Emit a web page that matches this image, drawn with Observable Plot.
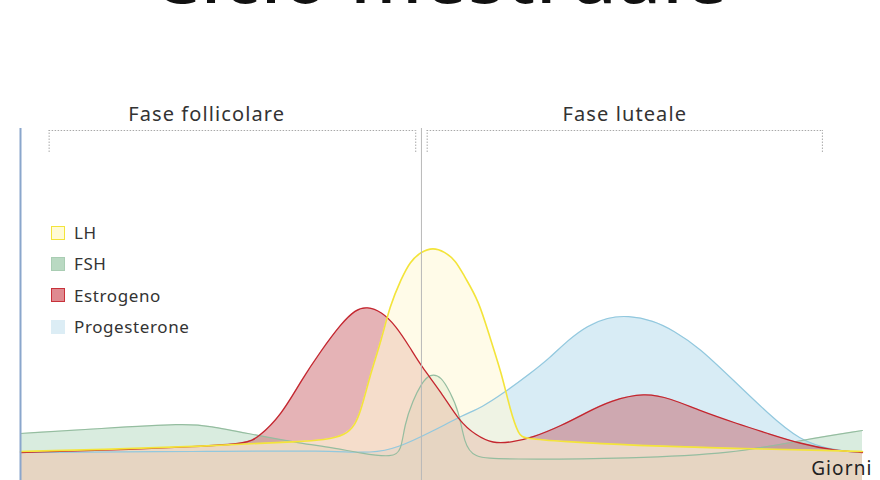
<!DOCTYPE html>
<html>
<head>
<meta charset="utf-8">
<script src="https://cdn.jsdelivr.net/npm/d3@7"></script>
<script src="https://cdn.jsdelivr.net/npm/@observablehq/plot@0.6"></script>
<style>
  html, body { margin: 0; padding: 0; background: #fff; }
  #wrap { position: relative; width: 880px; height: 480px; overflow: hidden; font-family: "Noto Sans", sans-serif; color: #333; }
  #title { position: absolute; left: 0; width: 880px; top: -64px; text-align: center; font-size: 76px; line-height: 1; font-weight: 500; color: #111; letter-spacing: 1px; }
  #chart { position: absolute; left: 0; top: 0; }
  #chart svg text { letter-spacing: 1.1px; }
  #legend { position: absolute; left: 51px; top: 217px; }
  .item { display: flex; align-items: center; height: 31.3px; font-size: 17px; letter-spacing: 0.6px; color: #333; }
  .sw { width: 12px; height: 12px; margin-right: 9px; border: 1.5px solid; box-sizing: content-box; }
</style>
</head>
<body>
<div id="wrap">
  <div id="title">Ciclo mestruale</div>
  <div id="chart"></div>
  <div id="legend"></div>
</div>
<script>
// Hormone levels (arbitrary units) by day of the cycle
const lhDays = [0, 2.8, 6.3, 9.8, 11.5, 11.9, 12.2, 12.6, 12.9, 13.3, 13.6, 14, 14.4, 14.8, 15.2, 15.5, 16, 16.4, 16.8, 17.1, 17.4, 17.6, 18.9, 21.4, 24.9, 28.4, 29.4];
const lhLevels = [14.5, 15.5, 17, 19.5, 21, 35, 52.5, 70, 87.5, 101, 109.5, 114.5, 116.5, 114.5, 110, 102, 90, 71, 53.5, 35, 22.5, 21, 19.5, 17.5, 16, 15, 14.5];

const estDays = [0, 2.8, 6.3, 7.9, 8.3, 9.1, 9.8, 10.5, 11.2, 11.7, 12.1, 12.6, 13.1, 13.6, 14, 14.7, 15.3, 15.9, 16.5, 17.1, 17.9, 18.9, 19.7, 20.6, 21.8, 22.7, 23.7, 25, 26.1, 27.2, 28.4, 29.4];
const estLevels = [14, 15, 17, 18.5, 21.5, 32.5, 50, 65, 78.5, 85.5, 87, 84.5, 77.5, 66.5, 57, 44, 30, 22.5, 18.5, 19, 21.5, 27.5, 33.5, 40, 44, 41, 35, 28.5, 23.5, 18.5, 15, 14];

const fshDays = [0, 2.8, 5.8, 6.5, 8.3, 9.8, 10.9, 11.9, 13, 13.3, 13.4, 13.7, 14, 14.3, 14.7, 15, 15.3, 15.5, 15.8, 16.8, 21.4, 24.9, 27.2, 29.4];
const fshLevels = [23.5, 26, 28.5, 27.5, 22.5, 18.5, 16.5, 13.5, 11.5, 15, 27.5, 40, 48.5, 53.5, 52, 44, 35, 18.5, 11.5, 10.5, 11, 13.5, 20, 25];

const progDays = [0, 6.3, 10.8, 12.3, 13.2, 14.3, 15.5, 16.1, 16.9, 17.8, 18.5, 19.1, 19.8, 20.5, 21.2, 22.1, 22.8, 23.7, 24.9, 26.1, 27.2, 28.4, 29.4];
const progLevels = [14, 14.5, 15, 13.5, 16.5, 24, 33, 36.5, 44, 53.5, 61.5, 70, 77.5, 81.5, 82.5, 80, 75, 66.5, 50, 33.5, 20, 15, 14];

// Phases
const phaseNames = ["Fase follicolare", "Fase luteale"];
const phaseStart = [1, 14.2];
const phaseEnd = [13.8, 28];
const phaseLabelDay = [6.5, 21.1];
const ovulationDay = 14;
const cycleEnd = 29.4;

const seriesNames = ["LH", "FSH", "Estrogeno", "Progesterone"];

const toRows = (days, levels) => days.map((d, i) => ({day: d, level: levels[i]}));
const lh = toRows(lhDays, lhLevels);
const est = toRows(estDays, estLevels);
const fsh = toRows(fshDays, fshLevels);
const prog = toRows(progDays, progLevels);
const phases = phaseNames.map((n, i) => ({name: n, start: phaseStart[i], end: phaseEnd[i], label: phaseLabelDay[i]}));

const bracketTop = 175, bracketBottom = 164, labelLevel = 183, topLevel = 176;
const curve = "basis";

const chart = Plot.plot({
  width: 880,
  height: 480,
  marginLeft: 20,
  marginRight: 18,
  marginTop: 0,
  marginBottom: 0,
  x: {domain: [0, cycleEnd], axis: null},
  y: {domain: [0, 240], axis: null},
  marks: [
    Plot.areaY(prog, {x: "day", y: "level", fill: "#a8d5e8", fillOpacity: 0.45, curve}),
    Plot.areaY(fsh, {x: "day", y: "level", fill: "#9fcfb0", fillOpacity: 0.4, curve}),
    Plot.areaY(est, {x: "day", y: "level", fill: "#c24a52", fillOpacity: 0.42, curve}),
    Plot.areaY(lh, {x: "day", y: "level", fill: "#fff8d8", fillOpacity: 0.6, curve}),
    Plot.lineY(prog, {x: "day", y: "level", stroke: "#92c8de", strokeWidth: 1.2, curve}),
    Plot.lineY(fsh, {x: "day", y: "level", stroke: "#95bda0", strokeWidth: 1.2, curve}),
    Plot.lineY(est, {x: "day", y: "level", stroke: "#c4262f", strokeWidth: 1.3, curve}),
    Plot.lineY(lh, {x: "day", y: "level", stroke: "#f3e43a", strokeWidth: 1.6, curve}),
    Plot.ruleX([ovulationDay], {y1: 0, y2: topLevel, stroke: "#b8b8b8", strokeWidth: 1}),
    Plot.ruleX([0], {y1: 0, y2: topLevel, stroke: "#8aa6cc", strokeWidth: 2}),
    Plot.ruleY(phases, {y: bracketTop, x1: "start", x2: "end", stroke: "#a9a9a9", strokeDasharray: "1.5,1.5", strokeWidth: 1}),
    Plot.ruleX(phases, {x: "start", y1: bracketBottom, y2: bracketTop, stroke: "#a9a9a9", strokeDasharray: "1.5,1.5"}),
    Plot.ruleX(phases, {x: "end", y1: bracketBottom, y2: bracketTop, stroke: "#a9a9a9", strokeDasharray: "1.5,1.5"}),
    Plot.text(phases, {x: "label", y: labelLevel, text: "name", fontSize: 20, fill: "#333", fontFamily: "Noto Sans"}),
    Plot.text(["Giorni"], {x: cycleEnd, y: 6, text: d => d, textAnchor: "end", dx: 10, fontSize: 19, fill: "#222", fontFamily: "Noto Sans"})
  ]
});
document.getElementById("chart").appendChild(chart);

// Legend
const legendFill = ["#fffbd6", "#b9d9c2", "#df8a90", "#dcedf5"];
const legendStroke = ["#f3e43a", "#a9cdb3", "#c8323a", "#dcedf5"];
const legend = document.getElementById("legend");
seriesNames.forEach((n, i) => {
  const row = document.createElement("div");
  row.className = "item";
  const sw = document.createElement("span");
  sw.className = "sw";
  sw.style.background = legendFill[i];
  sw.style.borderColor = legendStroke[i];
  const t = document.createElement("span");
  t.textContent = n;
  row.appendChild(sw);
  row.appendChild(t);
  legend.appendChild(row);
});
</script>
</body>
</html>
